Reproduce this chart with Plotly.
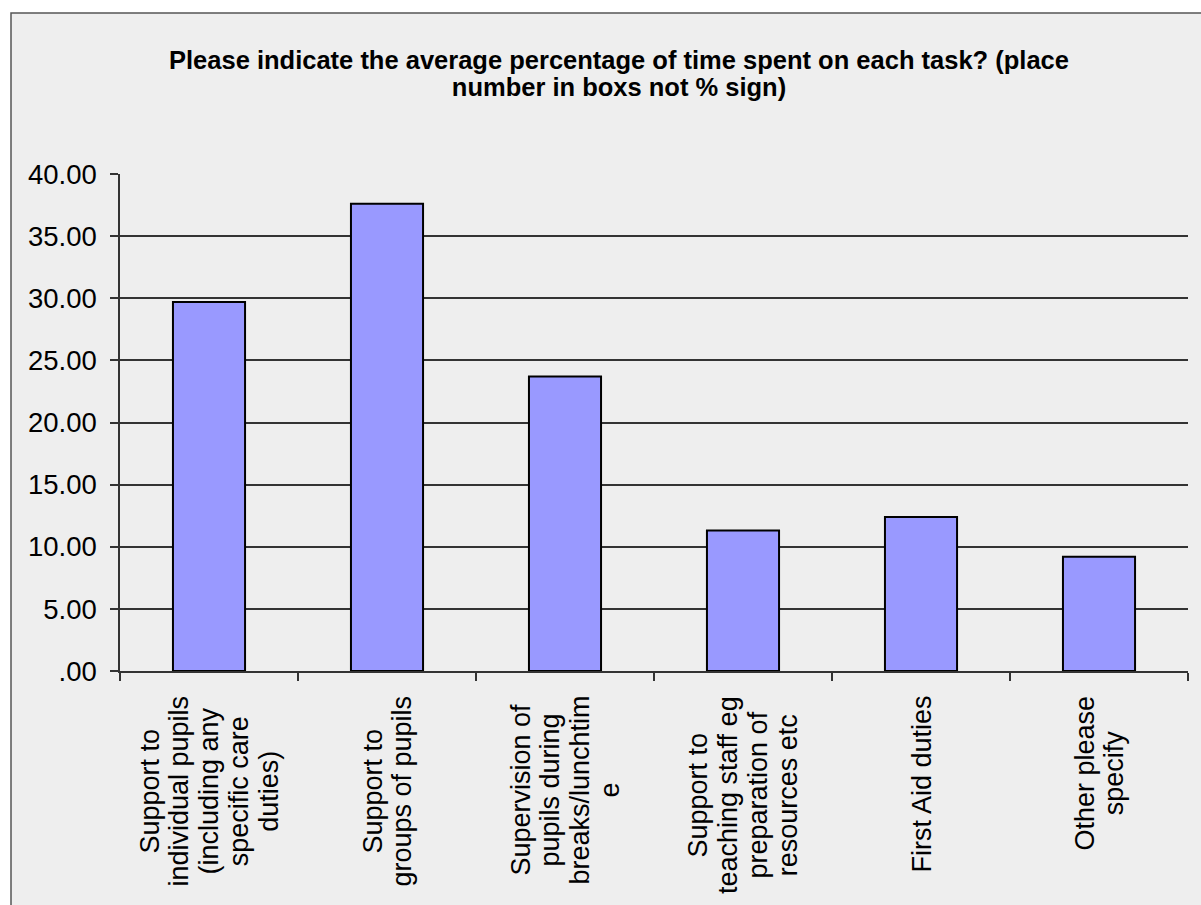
import plotly.graph_objects as go

# Survey results: average share of time spent per task
categories = [
    "Support to individual pupils (including any specific care duties)",
    "Support to groups of pupils",
    "Supervision of pupils during breaks/lunchtime",
    "Support to teaching staff eg preparation of resources etc",
    "First Aid duties",
    "Other please specify",
]
label_lines = [
    ["Support to", "individual pupils", "(including any", "specific care", "duties)"],
    ["Support to", "groups of pupils"],
    ["Supervision of", "pupils during", "breaks/lunchtim", "e"],
    ["Support to", "teaching staff eg", "preparation of", "resources etc"],
    ["First Aid duties"],
    ["Other please", "specify"],
]
values = [29.7, 37.6, 23.7, 11.3, 12.4, 9.2]

y_tickvals = [0, 5, 10, 15, 20, 25, 30, 35, 40]
y_ticktext = [".00", "5.00", "10.00", "15.00", "20.00", "25.00", "30.00", "35.00", "40.00"]

title_lines = [
    "Please indicate the average percentage of time spent on each task? (place",
    "number in boxs not % sign)",
]

FONT = "Liberation Sans, Arial, sans-serif"
W, H = 1201, 905
L, R, T, B = 120, 13, 174, 234
plot_w = W - L - R
plot_h = H - T - B


def px_x(px):
    return (px - L) / plot_w


def px_y(py):
    return (H - B - py) / plot_h


def spaced(lines, size):
    # glyph size set per line; the base font size controls line pitch
    return "<br>".join(f'<span style="font-size:{size}px">{ln}</span>' for ln in lines)


fig = go.Figure()
fig.add_trace(go.Bar(
    x=categories,
    y=values,
    marker=dict(color="#9999ff", line=dict(color="#000000", width=2)),
    hoverinfo="skip",
))

# chart area frame
fig.add_shape(
    type="rect", xref="paper", yref="paper", layer="below",
    x0=px_x(11), x1=px_x(1215), y0=px_y(920), y1=px_y(13),
    fillcolor="#eeeeee", line=dict(color="#555555", width=1.5),
)

# category labels, rotated, lines centred within each block
for cat, lines in zip(categories, label_lines):
    fig.add_annotation(
        x=cat, xref="x", y=px_y(694), yref="paper",
        xanchor="center", yanchor="top", textangle=-90,
        text=spaced(lines, 27), showarrow=False, align="center",
        font=dict(family=FONT, size=23, color="#000000"),
    )

fig.update_layout(
    width=W, height=H, autosize=False,
    margin=dict(l=L, r=R, t=T, b=B),
    paper_bgcolor="#ffffff",
    plot_bgcolor="rgba(0,0,0,0)",
    showlegend=False,
    bargap=0.595,
    title=dict(
        text=spaced(title_lines, 25.5),
        x=619 / W, xref="container", xanchor="center",
        y=1 - 69 / H, yref="container", yanchor="top",
        font=dict(family=FONT, size=20.5, color="#000000", weight="bold"),
    ),
    font=dict(family=FONT, color="#000000"),
    xaxis=dict(
        showticklabels=False,
        showline=True, linecolor="#333333", linewidth=1.5,
        ticks="outside", tickson="boundaries", ticklen=8,
        tickcolor="#333333", tickwidth=1.5,
        showgrid=False, zeroline=False,
    ),
    yaxis=dict(
        range=[0, 40],
        tickvals=y_tickvals, ticktext=y_ticktext,
        tickfont=dict(family=FONT, size=27.5, color="#000000"),
        ticks="outside", ticklen=8, tickcolor="#333333", tickwidth=1.5,
        ticklabelstandoff=8,
        showline=True, linecolor="#333333", linewidth=1.5,
        showgrid=True, gridcolor="#333333", gridwidth=1.5,
        zeroline=False,
    ),
)

fig.write_html("out.html")
